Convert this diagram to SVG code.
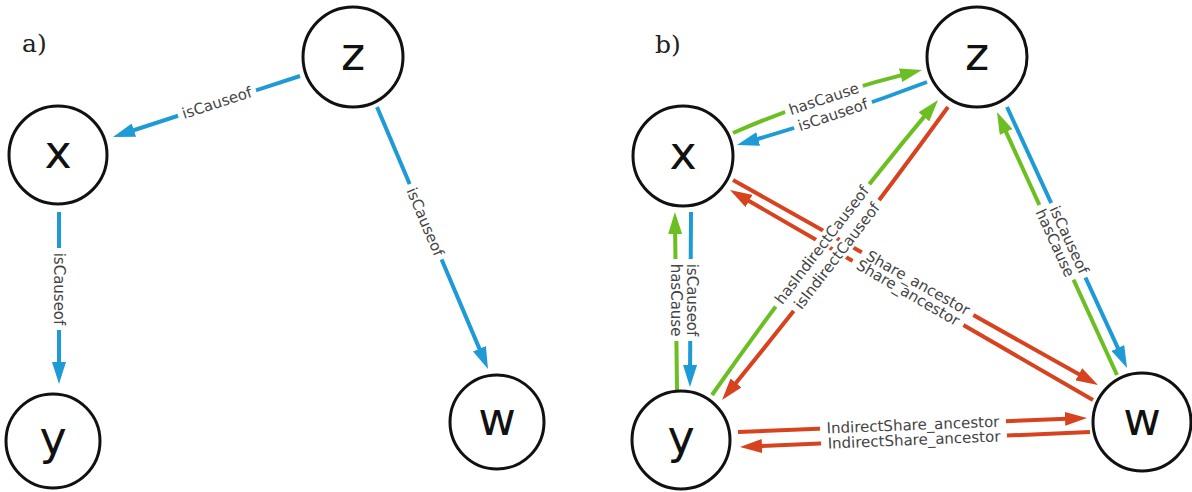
<svg xmlns="http://www.w3.org/2000/svg" width="1192" height="492" viewBox="0 0 1192 492">
<defs>
<style>
.node circle{fill:#fff;stroke:#111;stroke-width:3}
.node text{font-family:"DejaVu Sans",sans-serif;font-size:46px;fill:#111;text-anchor:middle}
.e{fill:none;stroke-width:4}
.b{stroke:#1e9bd7}.g{stroke:#6cbf22}.r{stroke:#d8431f}
.lbl rect{fill:#fff}
.lbl text{font-family:"DejaVu Sans",sans-serif;font-size:15px;fill:#444;text-anchor:middle;dominant-baseline:central}
.panel{font-family:"DejaVu Serif","Liberation Serif",serif;font-size:25px;fill:#222}
</style>
<marker id="ab" markerUnits="userSpaceOnUse" markerWidth="22" markerHeight="14" refX="14" refY="7" orient="auto"><path d="M0,0 L22,7 L0,14 z" fill="#1e9bd7"/></marker>
<marker id="ag" markerUnits="userSpaceOnUse" markerWidth="22" markerHeight="14" refX="14" refY="7" orient="auto"><path d="M0,0 L22,7 L0,14 z" fill="#6cbf22"/></marker>
<marker id="ar" markerUnits="userSpaceOnUse" markerWidth="22" markerHeight="14" refX="14" refY="7" orient="auto"><path d="M0,0 L22,7 L0,14 z" fill="#d8431f"/></marker>
</defs>
<rect width="1192" height="492" fill="#fff"/>
<text class="panel" x="22" y="52">a)</text>
<text class="panel" x="655" y="53">b)</text>
<g id="connectors">
<path class="e b" d="M300,76 L120.6,134.5" marker-end="url(#ab)"/>
<path class="e b" d="M59,212 L59,376" marker-end="url(#ab)"/>
<path class="e b" d="M377,107 L484.9,361.6" marker-end="url(#ab)"/>
<path class="e g" d="M733,133 Q820,95 914.2,71.9" marker-end="url(#ag)"/>
<path class="e b" d="M927,82 Q835,117 744.7,142.8" marker-end="url(#ab)"/>
<path class="e g" d="M677,390 L675,220" marker-end="url(#ag)"/>
<path class="e b" d="M691,212 L690,379" marker-end="url(#ab)"/>
<path class="e g" d="M712,395 Q819,242.5 932.9,106.1" marker-end="url(#ag)"/>
<path class="e r" d="M948,107 Q838,258.5 727.1,393.8" marker-end="url(#ar)"/>
<path class="e r" d="M733,180 L1091,381.1" marker-end="url(#ar)"/>
<path class="e r" d="M1093,400 L736.9,194" marker-end="url(#ar)"/>
<path class="e r" d="M738,432 L1079,418.3" marker-end="url(#ar)"/>
<path class="e r" d="M1090,432 L748,446.7" marker-end="url(#ar)"/>
<path class="e b" d="M1007,107 L1123.7,360.7" marker-end="url(#ab)"/>
<path class="e g" d="M1117,375 L1000.3,119.3" marker-end="url(#ag)"/>
<g class="lbl">
<rect transform="translate(217,103) rotate(-18)" x="-41" y="-8" width="82" height="16"/>
<rect transform="translate(59,289) rotate(90)" x="-41" y="-8" width="82" height="16"/>
<rect transform="translate(425,222) rotate(67)" x="-41" y="-8" width="82" height="16"/>
<rect transform="translate(824,99) rotate(-18.4)" x="-41" y="-8" width="82" height="16"/>
<rect transform="translate(833,115) rotate(-18.3)" x="-41" y="-8" width="82" height="16"/>
<rect transform="translate(676,300) rotate(90)" x="-41" y="-8" width="82" height="16"/>
<rect transform="translate(692,300) rotate(90)" x="-41" y="-8" width="82" height="16"/>
<rect transform="translate(822,245) rotate(-52.5)" x="-77" y="-8" width="154" height="16"/>
<rect transform="translate(837,256) rotate(-52.4)" x="-70" y="-8" width="140" height="16"/>
<rect transform="translate(918,283) rotate(29.3)" x="-64" y="-8" width="128" height="16"/>
<rect transform="translate(908,293) rotate(30)" x="-64" y="-8" width="128" height="16"/>
<rect transform="translate(913,425) rotate(-2.2)" x="-93" y="-8" width="186" height="16"/>
<rect transform="translate(914,440) rotate(-2.4)" x="-93" y="-8" width="186" height="16"/>
<rect transform="translate(1069,240) rotate(65.3)" x="-41" y="-8" width="82" height="16"/>
<rect transform="translate(1055,243) rotate(65.5)" x="-41" y="-8" width="82" height="16"/>
<text transform="translate(217,103) rotate(-18)">isCauseof</text>
<text transform="translate(59,289) rotate(90)">isCauseof</text>
<text transform="translate(425,222) rotate(67)">isCauseof</text>
<text transform="translate(824,99) rotate(-18.4)">hasCause</text>
<text transform="translate(833,115) rotate(-18.3)">isCauseof</text>
<text transform="translate(676,300) rotate(90)">hasCause</text>
<text transform="translate(692,300) rotate(90)">isCauseof</text>
<text transform="translate(822,245) rotate(-52.5)">hasIndirectCauseof</text>
<text transform="translate(837,256) rotate(-52.4)">isIndirectCauseof</text>
<text transform="translate(918,283) rotate(29.3)">Share_ancestor</text>
<text transform="translate(908,293) rotate(30)">Share_ancestor</text>
<text transform="translate(913,425) rotate(-2.2)">IndirectShare_ancestor</text>
<text transform="translate(914,440) rotate(-2.4)">IndirectShare_ancestor</text>
<text transform="translate(1069,240) rotate(65.3)">isCauseof</text>
<text transform="translate(1055,243) rotate(65.5)">hasCause</text>
</g>
</g>
<g id="a-z" class="node"><circle cx="353" cy="57" r="50"/><text x="353" y="70">z</text></g>
<g id="a-x" class="node"><circle cx="58" cy="155" r="49"/><text x="58" y="168">x</text></g>
<g id="a-y" class="node"><circle cx="53" cy="441" r="47"/><text x="53" y="454">y</text></g>
<g id="a-w" class="node"><circle cx="497" cy="422" r="47"/><text x="497" y="435">w</text></g>
<g id="b-z" class="node"><circle cx="977" cy="57" r="50"/><text x="977" y="70">z</text></g>
<g id="b-x" class="node"><circle cx="683" cy="156" r="50"/><text x="683" y="169">x</text></g>
<g id="b-y" class="node"><circle cx="681" cy="440" r="49"/><text x="681" y="453">y</text></g>
<g id="b-w" class="node"><circle cx="1142" cy="422" r="49"/><text x="1142" y="435">w</text></g>
</svg>
